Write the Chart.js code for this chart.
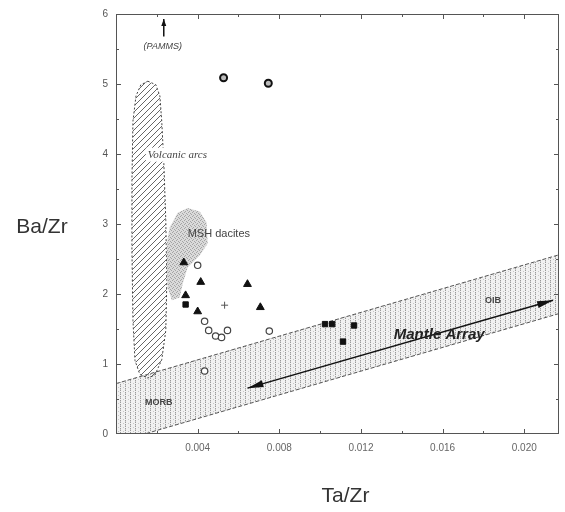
<!DOCTYPE html>
<html>
<head>
<meta charset="utf-8">
<script src="https://cdn.jsdelivr.net/npm/chart.js@4.4.1/dist/chart.umd.min.js"></script>
<style>
  html, body { margin: 0; background: #fff; }
  #wrap { width: 565px; height: 512px; }
</style>
</head>
<body>
<div id="wrap"><canvas id="c"></canvas></div>
<script>
// --- data (Ta/Zr, Ba/Zr) ---
const xMax = 0.0217;
const yMax = 6;

const filledTriangles = [
  [0.00332, 2.45], [0.00415, 2.17], [0.00644, 2.14],
  [0.00341, 1.98], [0.00400, 1.75], [0.00707, 1.81]
];
const filledSquares = [
  [0.00341, 1.85], [0.01024, 1.57], [0.01059, 1.57],
  [0.01166, 1.55], [0.01112, 1.32]
];
const openCircles = [
  [0.00400, 2.41], [0.00434, 1.61], [0.00454, 1.48], [0.00488, 1.40],
  [0.00517, 1.38], [0.00546, 1.48], [0.00751, 1.47], [0.00434, 0.90]
];
const ringCircles = [[0.00527, 5.09], [0.00746, 5.01]];
const crosses = [[0.00532, 1.84]];

// fields (polygon vertices)
const mantleArray = [[0, 0.72], [0.0217, 2.56], [0.0217, 1.72], [0.0014, 0], [0, 0]];
const volcanicArcs = [
  [0.00156, 5.04], [0.00195, 4.99], [0.00215, 4.83], [0.00224, 4.47], [0.00234, 3.90],
  [0.00244, 3.05], [0.00249, 2.19], [0.00244, 1.48], [0.00224, 1.06], [0.00190, 0.84],
  [0.00156, 0.80], [0.00117, 0.85], [0.00093, 1.05], [0.00083, 1.62], [0.00078, 2.62],
  [0.00078, 3.62], [0.00083, 4.47], [0.00098, 4.83], [0.00122, 4.99]
];
const mshDacites = [
  [0.00351, 3.23], [0.00410, 3.18], [0.00444, 3.02], [0.00449, 2.72], [0.00410, 2.55],
  [0.00351, 2.38], [0.00327, 2.15], [0.00312, 1.95], [0.00273, 1.91], [0.00254, 2.09],
  [0.00249, 2.38], [0.00249, 2.72], [0.00263, 2.95], [0.00302, 3.16]
];

// arrows: [from, to, double-headed]
const arrows = [
  [[0.00644, 0.655], [0.02141, 1.91], true],
  [[0.00234, 5.68], [0.00234, 5.93], false]
];

const labels = [
  { text: '(PAMMS)', x: 0.00229, y: 5.54, font: 'italic 9px "Liberation Sans"', align: 'center' },
  { text: 'Volcanic arcs', x: 0.00156, y: 3.99, font: 'italic 11px "Liberation Serif"', align: 'left', bg: true },
  { text: 'MSH dacites', x: 0.00351, y: 2.86, font: '11px "Liberation Sans"', align: 'left' },
  { text: 'MORB', x: 0.0021, y: 0.456, font: 'bold 9px "Liberation Sans"', align: 'center' },
  { text: 'OIB', x: 0.01847, y: 1.91, font: 'bold 9px "Liberation Sans"', align: 'center' },
  { text: 'Mantle Array', x: 0.01583, y: 1.41, font: 'bold italic 15px "Liberation Sans"', align: 'center' }
];

const toXY = arr => arr.map(p => ({ x: p[0], y: p[1] }));

// fill patterns
function makePattern(w, h, draw) {
  const c = document.createElement('canvas');
  c.width = w; c.height = h;
  draw(c.getContext('2d'));
  return c;
}
const hatchTile = makePattern(6, 6, g => {
  g.strokeStyle = '#666'; g.lineWidth = 1;
  g.beginPath();
  g.moveTo(0, 6); g.lineTo(6, 0);
  g.moveTo(-1, 1); g.lineTo(1, -1);
  g.moveTo(5, 7); g.lineTo(7, 5);
  g.stroke();
});
const bandTile = makePattern(5, 4, g => {
  g.fillStyle = '#f1f1f1'; g.fillRect(0, 0, 5, 4);
  g.fillStyle = '#9a9a9a';
  g.fillRect(0, 0, 1, 1); g.fillRect(0, 2, 1, 1);
  g.fillStyle = '#c8c8c8';
  g.fillRect(0, 1, 1, 1); g.fillRect(3, 3, 1, 1);
});
const stippleTile = makePattern(4, 4, g => {
  g.fillStyle = 'rgba(205,205,205,0.75)'; g.fillRect(0, 0, 4, 4);
  g.fillStyle = '#a4a4a4';
  g.fillRect(0, 0, 1, 1); g.fillRect(2, 1, 1, 1); g.fillRect(1, 3, 1, 1); g.fillRect(3, 2, 1, 1);
});

const fieldsPlugin = {
  id: 'fields',
  beforeDatasetsDraw(chart) {
    const { ctx, chartArea: a, scales: { x, y } } = chart;
    const poly = (pts) => {
      ctx.beginPath();
      pts.forEach((p, i) => {
        const px = x.getPixelForValue(p[0]), py = y.getPixelForValue(p[1]);
        i ? ctx.lineTo(px, py) : ctx.moveTo(px, py);
      });
      ctx.closePath();
    };
    ctx.save();
    ctx.beginPath(); ctx.rect(a.left, a.top, a.right - a.left, a.bottom - a.top); ctx.clip();

    // mantle array band
    poly(mantleArray);
    ctx.fillStyle = ctx.createPattern(bandTile, 'repeat');
    ctx.fill();
    ctx.strokeStyle = '#555'; ctx.lineWidth = 1; ctx.setLineDash([4, 2]);
    ctx.beginPath();
    ctx.moveTo(x.getPixelForValue(mantleArray[0][0]), y.getPixelForValue(mantleArray[0][1]));
    ctx.lineTo(x.getPixelForValue(mantleArray[1][0]), y.getPixelForValue(mantleArray[1][1]));
    ctx.moveTo(x.getPixelForValue(mantleArray[2][0]), y.getPixelForValue(mantleArray[2][1]));
    ctx.lineTo(x.getPixelForValue(mantleArray[3][0]), y.getPixelForValue(mantleArray[3][1]));
    ctx.stroke();

    // volcanic arcs
    poly(volcanicArcs);
    ctx.fillStyle = ctx.createPattern(hatchTile, 'repeat');
    ctx.fill();
    ctx.setLineDash([2, 2]); ctx.strokeStyle = '#444';
    ctx.stroke();

    // MSH dacites
    ctx.setLineDash([]);
    poly(mshDacites);
    ctx.fillStyle = ctx.createPattern(stippleTile, 'repeat');
    ctx.fill();
    ctx.restore();
  },
  afterDatasetsDraw(chart) {
    const { ctx, chartArea: a, scales: { x, y } } = chart;
    ctx.save();

    // frame and inward ticks
    ctx.strokeStyle = '#555'; ctx.lineWidth = 1;
    ctx.strokeRect(a.left + 0.5, a.top + 0.5, a.right - a.left - 1, a.bottom - a.top - 1);
    ctx.beginPath();
    for (let i = 1; i * 0.002 < xMax; i++) {
      const px = Math.round(x.getPixelForValue(i * 0.002)) + 0.5;
      const len = i % 2 ? 3 : 5;
      ctx.moveTo(px, a.bottom); ctx.lineTo(px, a.bottom - len);
      ctx.moveTo(px, a.top); ctx.lineTo(px, a.top + len);
    }
    for (let i = 1; i < yMax * 2; i++) {
      const py = Math.round(y.getPixelForValue(i * 0.5)) + 0.5;
      const len = i % 2 ? 3 : 5;
      ctx.moveTo(a.left, py); ctx.lineTo(a.left + len, py);
      ctx.moveTo(a.right, py); ctx.lineTo(a.right - len, py);
    }
    ctx.stroke();

    // arrows
    ctx.fillStyle = '#111'; ctx.strokeStyle = '#111'; ctx.lineWidth = 1.5;
    const head = (tx, ty, ang, len, wid) => {
      ctx.beginPath();
      ctx.moveTo(tx, ty);
      ctx.lineTo(tx - len * Math.cos(ang) + wid * Math.sin(ang), ty - len * Math.sin(ang) - wid * Math.cos(ang));
      ctx.lineTo(tx - len * Math.cos(ang) - wid * Math.sin(ang), ty - len * Math.sin(ang) + wid * Math.cos(ang));
      ctx.closePath(); ctx.fill();
    };
    arrows.forEach(([p0, p1, both]) => {
      const x0 = x.getPixelForValue(p0[0]), y0 = y.getPixelForValue(p0[1]);
      const x1 = x.getPixelForValue(p1[0]), y1 = y.getPixelForValue(p1[1]);
      const ang = Math.atan2(y1 - y0, x1 - x0);
      const len = both ? 16 : 7, wid = both ? 3.5 : 2.5;
      ctx.beginPath(); ctx.moveTo(x0, y0); ctx.lineTo(x1, y1); ctx.stroke();
      head(x1, y1, ang, len, wid);
      if (both) head(x0, y0, ang + Math.PI, len, wid);
    });

    // field labels
    ctx.textBaseline = 'middle';
    labels.forEach(l => {
      ctx.font = l.font; ctx.textAlign = l.align;
      const px = x.getPixelForValue(l.x), py = y.getPixelForValue(l.y);
      if (l.bg) {
        const w = ctx.measureText(l.text).width;
        ctx.fillStyle = '#fff';
        ctx.fillRect(px - 2, py - 7, w + 4, 14);
      }
      ctx.fillStyle = l.text === 'Mantle Array' ? '#222' : '#444';
      ctx.fillText(l.text, px, py);
    });

    // axis titles
    ctx.fillStyle = '#333';
    ctx.font = '21px "Liberation Sans"';
    ctx.textAlign = 'center';
    ctx.fillText('Ba/Zr', 42, 227);
    ctx.fillText('Ta/Zr', (a.left + a.right) / 2 + 8, 496);
    ctx.restore();
  }
};

const pointBase = { showLine: false, pointBorderColor: '#111' };

new Chart(document.getElementById('c'), {
  type: 'scatter',
  data: {
    datasets: [
      { ...pointBase, label: 'filled triangles', data: toXY(filledTriangles), pointStyle: 'triangle',
        pointRadius: 4.5, pointBackgroundColor: '#111', pointBorderWidth: 1 },
      { ...pointBase, label: 'filled squares', data: toXY(filledSquares), pointStyle: 'rect',
        pointRadius: 3.8, pointBackgroundColor: '#111', pointBorderWidth: 1 },
      { ...pointBase, label: 'open circles', data: toXY(openCircles), pointStyle: 'circle',
        pointRadius: 3.2, pointBackgroundColor: '#fff', pointBorderColor: '#444', pointBorderWidth: 1.2 },
      { ...pointBase, label: 'ring circles', data: toXY(ringCircles), pointStyle: 'circle',
        pointRadius: 3.5, pointBackgroundColor: '#bbb', pointBorderWidth: 2 },
      { ...pointBase, label: 'cross', data: toXY(crosses), pointStyle: 'cross',
        pointRadius: 3.5, pointBorderColor: '#555', pointBorderWidth: 1 }
    ]
  },
  options: {
    responsive: true, maintainAspectRatio: false, animation: false,
    layout: { padding: { top: 13, right: 5, left: 0, bottom: 0 } },
    plugins: { legend: { display: false }, tooltip: { enabled: false } },
    scales: {
      x: {
        type: 'linear', min: 0, max: xMax,
        afterFit: s => { s.height = 78; },
        afterBuildTicks: s => {
          s.ticks = [0.004, 0.008, 0.012, 0.016, 0.020].map(v => ({ value: v }));
        },
        ticks: {
          font: { size: 10, family: '"Liberation Sans"' }, color: '#666', padding: 8,
          maxRotation: 0, callback: v => v.toFixed(3)
        },
        grid: { display: false, drawTicks: false },
        border: { display: false }
      },
      y: {
        min: 0, max: yMax,
        afterFit: s => { s.width = 116; },
        ticks: { stepSize: 1, font: { size: 10, family: '"Liberation Sans"' }, color: '#555', padding: 8 },
        grid: { display: false, drawTicks: false },
        border: { display: false }
      }
    }
  },
  plugins: [fieldsPlugin]
});
</script>
</body>
</html>
